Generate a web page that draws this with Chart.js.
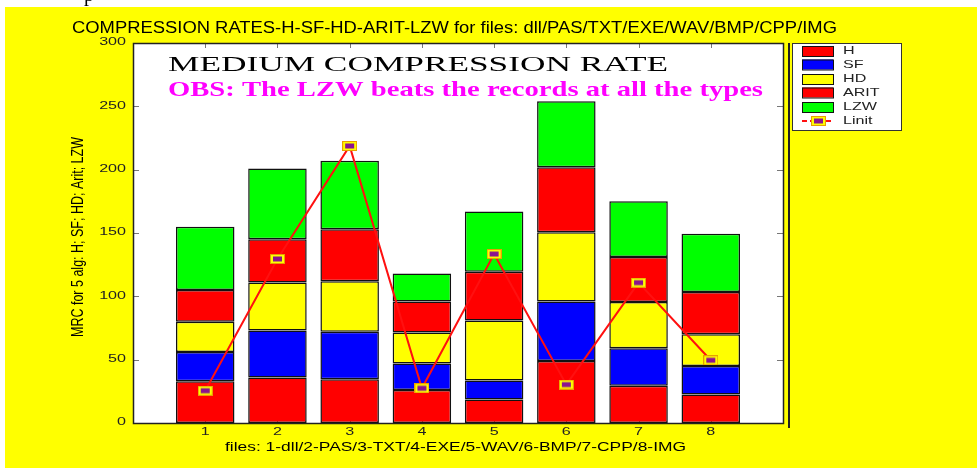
<!DOCTYPE html>
<html>
<head>
<meta charset="utf-8">
<script src="https://cdn.jsdelivr.net/npm/chart.js@4.4.1/dist/chart.umd.min.js"></script>
<style>
  html, body { margin: 0; padding: 0; background: #fff; }
  #wrap { width: 977px; height: 468px; }
</style>
</head>
<body>
<div id="wrap"><canvas id="grafica" width="977" height="468"></canvas></div>
<script>
// datos
const files = [1, 2, 3, 4, 5, 6, 7, 8];
const fileLabels = ['1', '2', '3', '4', '5', '6', '7', '8'];
const yTickValues = [0, 50, 100, 150, 200, 250, 300];
const hVals = [33, 36, 34.5, 26, 18.5, 49, 29.5, 22.5];
const sfVals = [23, 37, 37.5, 21, 15, 47, 29.5, 22.5];
const hdVals = [24, 38, 40, 24.5, 47.5, 54.5, 36.5, 25];
const aritVals = [25, 34, 41, 24.5, 38.5, 51.5, 35.5, 33.5];
const lzwVals = [50, 56, 54, 22, 47.5, 52, 44, 46];
const linitVals = [25.5, 129.5, 218.7, 27.4, 133.4, 30.3, 110.8, 49.5];

const titulo = 'COMPRESSION RATES-H-SF-HD-ARIT-LZW for files: dll/PAS/TXT/EXE/WAV/BMP/CPP/IMG';
const subtitulo1 = 'MEDIUM COMPRESSION RATE';
const subtitulo2 = 'OBS: The LZW beats the records at all the types';
const tituloY = 'MRC for 5 alg: H; SF; HD; Arit; LZW';
const tituloX = 'files: 1-dll/2-PAS/3-TXT/4-EXE/5-WAV/6-BMP/7-CPP/8-IMG';

const SANS = '"Liberation Sans", Arial, sans-serif';
const SERIF = '"Liberation Serif", "Times New Roman", serif';

// marcador del Linit: rectangulo morado con borde amarillo
const marcador = document.createElement('canvas');
marcador.width = 15;
marcador.height = 10;
(() => {
    const m = marcador.getContext('2d');
    m.fillStyle = '#e8a000';
    m.fillRect(0, 0, 15, 10);
    m.fillStyle = '#ffff00';
    m.fillRect(1, 1, 13, 8);
    m.fillStyle = '#8a1490';
    m.fillRect(3, 2.5, 9, 5);
})();

function texto(ctx, str, x, y, font, opts = {}) {
    ctx.save();
    ctx.font = font;
    ctx.fillStyle = opts.color || '#000';
    ctx.textBaseline = 'middle';
    ctx.textAlign = opts.align || 'center';
    const w = ctx.measureText(str).width;
    const sx = opts.width ? opts.width / w : (opts.sx || 1);
    ctx.translate(x, y);
    if (opts.rotate) ctx.rotate(opts.rotate);
    ctx.scale(sx, 1);
    ctx.fillText(str, 0, 0);
    ctx.restore();
}

const toXY = (vals) => files.map((f, i) => ({ x: f, y: vals[i] }));

const fondo = {
    id: 'fondo',
    beforeDraw(chart) {
        const ctx = chart.ctx;
        const a = chart.chartArea;
        ctx.save();
        ctx.fillStyle = '#fff';
        ctx.fillRect(0, 0, chart.width, chart.height);
        ctx.fillStyle = '#000';
        ctx.font = '20px ' + SERIF;
        ctx.textBaseline = 'alphabetic';
        ctx.fillText('p', 84, 1);
        ctx.fillStyle = '#ffff00';
        ctx.fillRect(5, 7, chart.width - 5, chart.height - 7);
        ctx.fillStyle = '#fff';
        ctx.fillRect(a.left, a.top, a.right - a.left, a.bottom - a.top);
        ctx.restore();
    },
    beforeDatasetsDraw(chart) {
        const ctx = chart.ctx;
        const a = chart.chartArea;
        const xs = chart.scales.x;
        const ys = chart.scales.y;
        ctx.save();
        ctx.strokeStyle = '#777';
        ctx.lineWidth = 1;
        ctx.beginPath();
        yTickValues.forEach((v) => {
            const py = Math.round(ys.getPixelForValue(v)) + 0.5;
            ctx.moveTo(a.left, py); ctx.lineTo(a.left + 6, py);
            ctx.moveTo(a.right, py); ctx.lineTo(a.right - 6, py);
        });
        files.forEach((f) => {
            const px = Math.round(xs.getPixelForValue(f)) + 0.5;
            ctx.moveTo(px, a.top); ctx.lineTo(px, a.top + 5);
            ctx.moveTo(px, a.bottom); ctx.lineTo(px, a.bottom - 5);
        });
        ctx.stroke();
        ctx.restore();
    },
    afterDraw(chart) {
        const ctx = chart.ctx;
        const a = chart.chartArea;
        const xs = chart.scales.x;
        const ys = chart.scales.y;

        // marco del area
        ctx.save();
        ctx.strokeStyle = '#222';
        ctx.lineWidth = 1.5;
        ctx.strokeRect(a.left + 0.5, a.top + 0.5, a.right - a.left, a.bottom - a.top);
        ctx.lineWidth = 2;
        ctx.beginPath();
        ctx.moveTo(789, a.top);
        ctx.lineTo(789, a.bottom + 5);
        ctx.stroke();
        ctx.restore();

        // textos
        texto(ctx, titulo, 454.5, 29, '16px ' + SANS, { width: 765 });
        texto(ctx, subtitulo1, 418, 65.5, '21px ' + SERIF, { width: 500 });
        texto(ctx, subtitulo2, 465.5, 91, 'bold 21px ' + SERIF, { width: 595, color: '#ff00ff' });
        texto(ctx, tituloY, 78, 237, '17px ' + SANS, { width: 200, rotate: -Math.PI / 2 });
        texto(ctx, tituloX, 455.5, 448, '12.5px ' + SANS, { width: 461 });

        yTickValues.forEach((v) => {
            texto(ctx, String(v), 126, ys.getPixelForValue(v) - 1, '11.5px ' + SANS, { align: 'right', sx: 1.4, color: '#222' });
        });
        files.forEach((f, i) => {
            texto(ctx, fileLabels[i], xs.getPixelForValue(f), 432, '11.5px ' + SANS, { sx: 1.4, color: '#222' });
        });

        // leyenda
        ctx.save();
        ctx.fillStyle = '#fff';
        ctx.fillRect(792, 43, 109, 87);
        ctx.strokeStyle = '#333';
        ctx.lineWidth = 1;
        ctx.strokeRect(792.5, 43.5, 109, 87);
        const filas = [51, 64.5, 79, 92.5, 107, 121];
        chart.data.datasets.forEach((ds, i) => {
            const yy = filas[i];
            if (ds.type === 'line') {
                ctx.strokeStyle = ds.borderColor;
                ctx.lineWidth = 2;
                ctx.setLineDash([5, 3]);
                ctx.beginPath();
                ctx.moveTo(802, yy);
                ctx.lineTo(834, yy);
                ctx.stroke();
                ctx.setLineDash([]);
                ctx.drawImage(marcador, 811, yy - 5);
            } else {
                ctx.fillStyle = ds.backgroundColor;
                ctx.fillRect(802, yy - 5, 31, 10);
                ctx.strokeStyle = '#111';
                ctx.strokeRect(802.5, yy - 4.5, 31, 10);
            }
            texto(ctx, ds.label, 843, yy, '11.5px ' + SANS, { align: 'left', sx: 1.4, color: '#222' });
        });
        ctx.restore();
    }
};

const barra = (label, vals, color) => ({
    type: 'bar',
    label: label,
    data: toXY(vals),
    backgroundColor: color,
    borderColor: '#111',
    borderWidth: 1.5,
    borderSkipped: false,
    stack: 'alg',
    order: 1
});

new Chart(document.getElementById('grafica').getContext('2d'), {
    data: {
        datasets: [
            barra('H', hVals, '#ff0000'),
            barra('SF', sfVals, '#0000ff'),
            barra('HD', hdVals, '#ffff00'),
            barra('ARIT', aritVals, '#ff0000'),
            barra('LZW', lzwVals, '#00ff00'),
            {
                type: 'line',
                label: 'Linit',
                data: toXY(linitVals),
                borderColor: '#ff1010',
                borderWidth: 2,
                tension: 0,
                pointStyle: marcador,
                stack: 'linit',
                order: 0
            }
        ]
    },
    options: {
        responsive: false,
        animation: false,
        devicePixelRatio: 1,
        layout: { padding: { top: 43, right: 194, left: 0, bottom: 0 } },
        datasets: {
            bar: { barPercentage: 0.81, categoryPercentage: 1 }
        },
        plugins: {
            legend: { display: false },
            title: { display: false },
            tooltip: { enabled: false }
        },
        scales: {
            x: {
                type: 'linear',
                min: 0,
                max: 9,
                offset: false,
                stacked: true,
                grid: { display: false, offset: false },
                border: { display: false },
                ticks: { display: false, stepSize: 1 },
                afterFit: (s) => { s.height = 45; }
            },
            y: {
                type: 'linear',
                min: 0,
                max: 300,
                stacked: true,
                grid: { display: false },
                border: { display: false },
                ticks: { display: false, stepSize: 50 },
                afterFit: (s) => { s.width = 133; }
            }
        }
    },
    plugins: [fondo]
});
</script>
</body>
</html>
